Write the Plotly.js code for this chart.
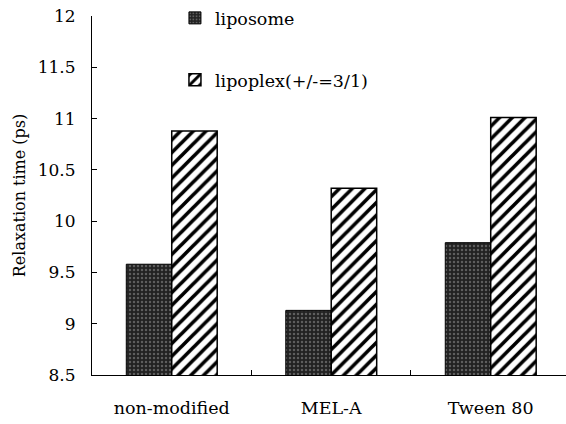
<!DOCTYPE html>
<html>
<head>
<meta charset="utf-8">
<script src="https://cdn.plot.ly/plotly-3.0.1.min.js"></script>
<style>
  html, body { margin: 0; padding: 0; background: #fff; }
  #chart { width: 566px; height: 424px; }
</style>
</head>
<body>
<div id="chart"></div>
<script>
// Relaxation time of the three formulations, liposome vs. lipoplex
const categories = ["non-modified", "MEL-A", "Tween 80"];
const liposome = [9.58, 9.13, 9.79];
const lipoplex = [10.88, 10.32, 11.01];
const yTicks = [8.5, 9, 9.5, 10, 10.5, 11, 11.5, 12];

const serif = "'DejaVu Serif', 'Liberation Serif', serif";

const traces = [
  {
    type: "bar",
    name: "liposome",
    x: categories,
    y: liposome,
    legend: "legend",
    marker: {
      color: "#2b2b2b",
      line: { color: "#000", width: 1 },
      pattern: { shape: ".", fgcolor: "#5e5e5e", bgcolor: "#222", size: 4, solidity: 0.3 }
    }
  },
  {
    type: "bar",
    name: "lipoplex(+/-=3/1)",
    x: categories,
    y: lipoplex,
    legend: "legend2",
    marker: {
      color: "#fff",
      line: { color: "#000", width: 1.5 },
      pattern: { shape: "/", fgcolor: "#000", bgcolor: "#fff", size: 9, solidity: 0.4 }
    }
  }
];

const layout = {
  width: 566,
  height: 424,
  margin: { l: 92, r: 0, t: 15, b: 49 },
  paper_bgcolor: "#fff",
  plot_bgcolor: "#fff",
  barmode: "group",
  bargap: 0.43,
  bargroupgap: 0,
  font: { family: serif, size: 17, color: "#000" },
  xaxis: {
    type: "category",
    range: [-0.5, 2.472],
    showline: true,
    linecolor: "#000",
    linewidth: 1,
    ticks: "inside",
    tickson: "boundaries",
    ticklen: 5,
    tickcolor: "#000",
    ticklabelstandoff: 17,
    showgrid: false,
    zeroline: false,
    tickfont: { family: serif, size: 17.5 }
  },
  yaxis: {
    range: [8.5, 12],
    tickvals: yTicks,
    ticktext: yTicks.map(String),
    showline: true,
    linecolor: "#000",
    linewidth: 1,
    ticks: "inside",
    ticklen: 5,
    tickcolor: "#000",
    ticklabelstandoff: 12,
    showgrid: false,
    zeroline: false,
    tickfont: { family: serif, size: 17 },
    title: { text: "Relaxation time (ps)", font: { family: serif, size: 16 }, standoff: 8 }
  },
  legend: {
    x: 0.175, y: 0.995, xanchor: "left", yanchor: "middle",
    bgcolor: "rgba(0,0,0,0)",
    font: { family: serif, size: 17.5 }
  },
  legend2: {
    x: 0.175, y: 0.82, xanchor: "left", yanchor: "middle",
    bgcolor: "rgba(0,0,0,0)",
    font: { family: serif, size: 17.5 }
  },
  showlegend: true
};

Plotly.newPlot("chart", traces, layout, { displayModeBar: false, staticPlot: true });
</script>
</body>
</html>
